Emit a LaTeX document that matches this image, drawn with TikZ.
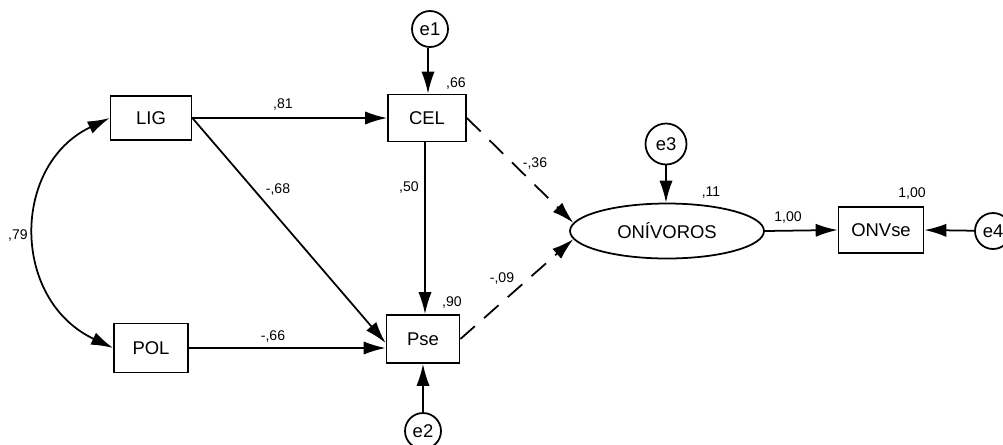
\documentclass[tikz,border=0pt]{standalone}
\usepackage{fontspec}
\setmainfont{Liberation Sans}
\usetikzlibrary{arrows.meta,shapes.geometric,calc}
\begin{document}
\begin{tikzpicture}[x=0.02cm,y=-0.02cm,
  every path/.style={line width=1pt},
  tip/.tip={Latex[length=12.5pt,width=7.5pt]},
  arr/.style={-tip},
  dsh/.style={arr,dash pattern=on 11pt off 7pt},
  var/.style={draw,rectangle,inner sep=0pt,font=\fontsize{10.5}{12}\selectfont},
  err/.style={draw,circle,inner sep=0pt,minimum size=0.72cm,font=\fontsize{10.5}{12}\selectfont},
  lat/.style={draw,ellipse,inner sep=0pt,minimum width=3.88cm,minimum height=1.1cm,font=\fontsize{10.5}{12}\selectfont},
  lbl/.style={inner sep=0pt,font=\fontsize{8}{9}\selectfont}]
\useasboundingbox (0,0) rectangle (1003,444);
\node[var,minimum width=1.62cm,minimum height=0.88cm] (LIG) at (151,118) {LIG};
\node[var,minimum width=1.48cm,minimum height=0.98cm] (POL) at (151,348) {POL};
\node[var,minimum width=1.56cm,minimum height=0.94cm] (CEL) at (427,118) {CEL};
\node[var,minimum width=1.46cm,minimum height=0.96cm] (Pse) at (423,339) {Pse};
\node[lat] (ONI) at (667,231) {ONÍVOROS};
\node[var,minimum width=1.70cm,minimum height=0.92cm] (ONV) at (881,230) {ONVse};
\node[err] (e1) at (430,29) {e1};
\node[err] (e2) at (423,431) {e2};
\node[err,minimum size=0.82cm] (e3) at (666,144) {e3};
\node[err] (e4) at (993,231) {e4};
% connectors
\draw[tip-tip] (LIG.west) .. controls (11,165) and (11,300) .. (POL.west);
\draw[arr] (LIG.east) -- (CEL.west);
\draw[arr] (LIG.east) -- ($(Pse.west)+(0,4)$);
\draw[arr] (POL.east) -- (POL.east -| Pse.west);
\draw[arr] (CEL.south -| 425,0) -- (Pse.north -| 425,0);
\draw[arr] (e1.south -| 428,0) -- (CEL.north -| 428,0);
\draw[arr] (e2) -- (Pse.south);
\draw[arr] (e3) -- (ONI.north -| e3);
\draw[dsh] (CEL.east) -- (ONI.175);
\draw[dsh] (Pse.east) -- (ONI.185);
\draw[arr] (ONI.east) -- (ONV.west);
\draw[arr] (e4) -- (ONV.east);
% labels
\node[lbl] (l79) at (18,235) {,79};
\node[lbl] (l81) at (283,104) {,81};
\node[lbl] (l68) at (278,189) {-,68};
\node[lbl] (l50) at (409,187) {,50};
\node[lbl] (l66b) at (273,336) {-,66};
\node[lbl] (l36) at (535,163) {-,36};
\node[lbl] (l09) at (502,278) {-,09};
\node[lbl] (l66) at (456,83) {,66};
\node[lbl] (l90) at (452,302) {,90};
\node[lbl] (l11) at (711,193) {,11};
\node[lbl] (l100a) at (788,217) {1,00};
\node[lbl] (l100b) at (912,193) {1,00};
\end{tikzpicture}
\end{document}
